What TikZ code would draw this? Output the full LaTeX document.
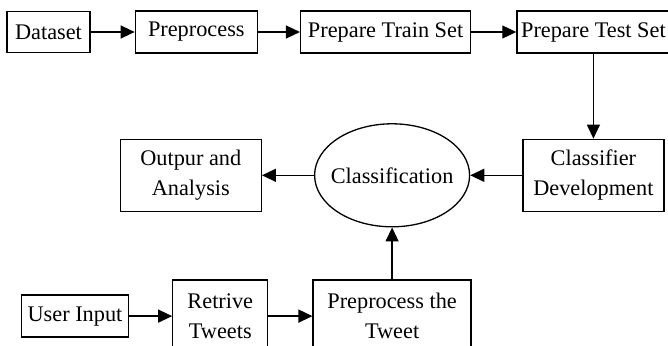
\documentclass[tikz,border=0pt]{standalone}
\usepackage{fontspec}
\setmainfont{Liberation Serif}
\usetikzlibrary{positioning}
\usetikzlibrary{shapes.geometric}
\usetikzlibrary{arrows.meta}

\begin{document}
\begin{tikzpicture}[-{Triangle[length=14pt,width=13pt]},line width=1.3pt,
                    font=\fontsize{22.3}{30}\selectfont,
                    block node/.style={rectangle,draw,inner sep=0pt,align=center},
                    oval node/.style={ellipse,draw,inner sep=0pt,inner xsep=-10pt}]

  \useasboundingbox (0,0) rectangle (668pt,-345pt);
  \clip (0,0) rectangle (668pt,-345pt);

  \node[block node,minimum width=83pt,minimum height=41pt] (dataset) at (48.5pt,-32pt) {Dataset};
  \node[block node,minimum width=122pt,minimum height=42pt] (prep) [right=44pt of dataset] {Preprocess};
  \node[block node,minimum width=170pt,minimum height=42pt] (train) [right=42pt of prep] {Prepare Train Set};
  \node[block node,minimum width=153pt,minimum height=42pt] (test) [right=45pt of train] {Prepare Test Set};
  \node[block node,minimum width=141pt,minimum height=72pt] (classdev) [below=85pt of test] {Classifier\\Development};
  \node[oval node,minimum width=155pt,minimum height=103pt] (classif) [left=52pt of classdev] {Classification};
  \node[block node,minimum width=141pt,minimum height=72pt] (output) [left=52pt of classif] {Outpur and\\Analysis};
  \node[block node,minimum width=158pt,minimum height=72pt] (pptweet) [below=52pt of classif] {Preprocess the\\Tweet};
  \node[block node,minimum width=95pt,minimum height=72pt] (retrive) [left=44pt of pptweet] {Retrive\\Tweets};
  \node[block node,minimum width=107pt,minimum height=42pt] (user) [left=43pt of retrive] {User Input};

  \path
    (dataset) edge (prep)
    (prep) edge (train)
    (train) edge (test)
    (test) edge (classdev)
    (classdev) edge (classif)
    (classif) edge (output)
    (user) edge (retrive)
    (retrive) edge (pptweet)
    (pptweet) edge (classif);
\end{tikzpicture}
\end{document}
